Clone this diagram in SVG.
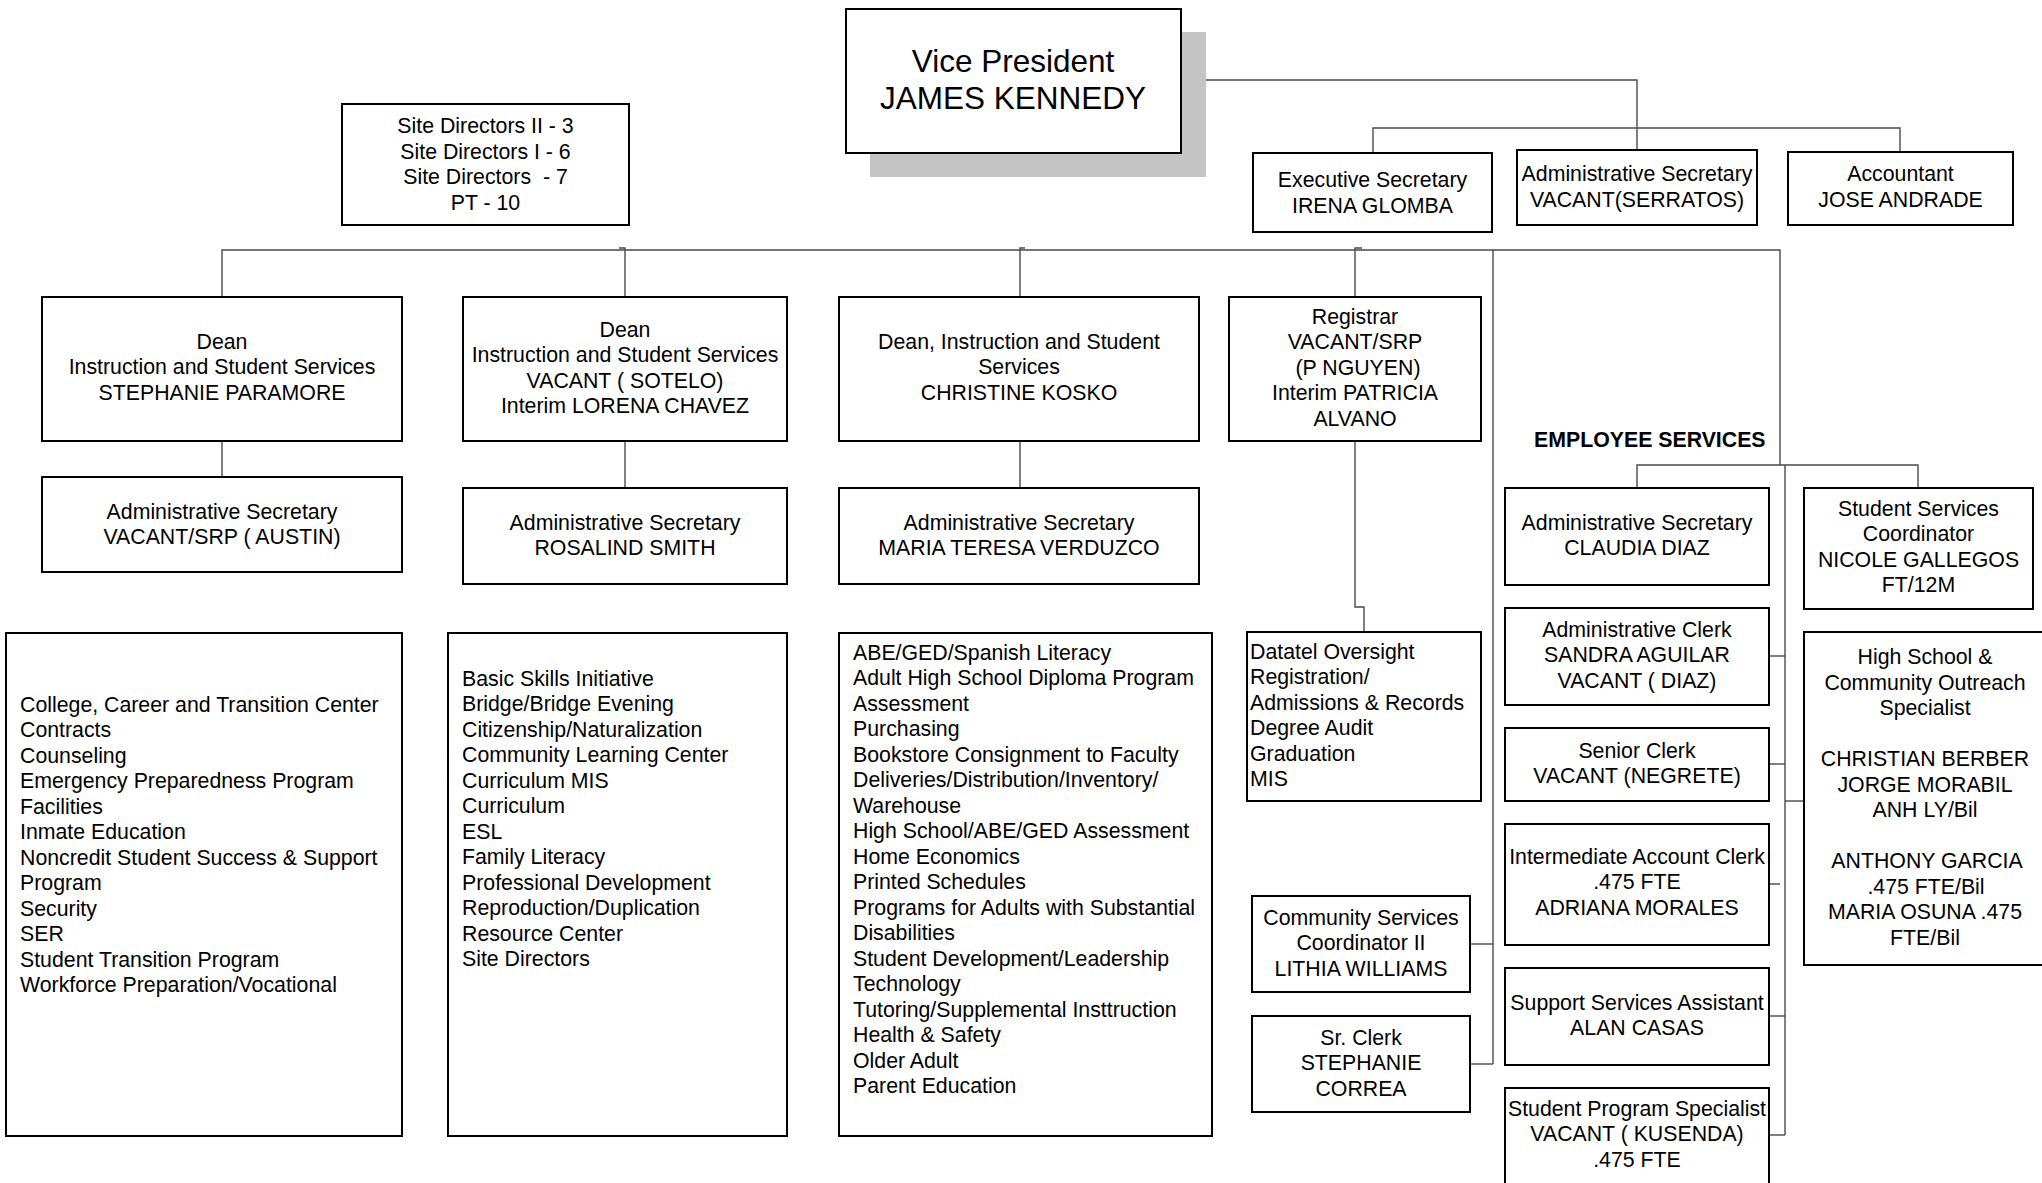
<svg xmlns="http://www.w3.org/2000/svg" width="2042" height="1183" viewBox="0 0 2042 1183">
<style>
.box{fill:#fff;stroke:#000;stroke-width:2}
.t{font-family:"Liberation Sans",Arial,sans-serif;font-size:21.3px;fill:#000}
.c{text-anchor:middle}
.b{font-weight:bold}
.vp{font-size:31.5px}
.pre{white-space:pre}
.conn{fill:none;stroke:#4a4a4a;stroke-width:1.4}
</style>
<rect width="2042" height="1183" fill="#fff"/>
<g id="connectors" class="conn">
<path d="M1181,80 H1637 V150"/>
<path d="M1373,153 V128 H1900 V152"/>
<path d="M222,297 V250 H1780 V465"/>
<path d="M619,248 H625 V297"/>
<path d="M1025,248 H1020 V297"/>
<path d="M1362,248 H1355 V297"/>
<path d="M1493,250 V1064"/>
<path d="M1355,441 V607 H1364 V632"/>
<path d="M1470,944 H1493"/>
<path d="M1470,1064 H1493"/>
<path d="M1637,488 V465 H1918 V488"/>
<path d="M1785,465 V1135"/>
<path d="M1769,656 H1785"/>
<path d="M1769,764 H1785"/>
<path d="M1769,884 H1780"/>
<path d="M1769,1016 H1785"/>
<path d="M1769,1135 H1785"/>
<path d="M1785,801 H1804"/>
<path d="M222,441 V477"/>
<path d="M625,441 V488"/>
<path d="M1020,441 V488"/>
</g>
<g id="vp">
<rect x="870" y="32" width="336" height="145" fill="#c4c4c4"/>
<rect class="box" x="846" y="9" width="335" height="144"/>
<text class="t c vp" x="1013" y="72">Vice President</text>
<text class="t c vp" x="1013" y="109">JAMES KENNEDY</text>
</g>
<g id="site-directors">
<rect class="box" x="342" y="104" width="287" height="121"/>
<text class="t c" x="485.5" y="133">Site Directors II - 3</text>
<text class="t c" x="485.5" y="158.5">Site Directors I - 6</text>
<text class="t c pre" x="485.5" y="184">Site Directors  - 7</text>
<text class="t c" x="485.5" y="209.5">PT - 10</text>
</g>
<g id="exec-sec">
<rect class="box" x="1253" y="153" width="239" height="79"/>
<text class="t c" x="1372.5" y="187">Executive Secretary</text>
<text class="t c" x="1372.5" y="212.5">IRENA GLOMBA</text>
</g>
<g id="admin-sec-top">
<rect class="box" x="1517" y="150" width="240" height="75"/>
<text class="t c" x="1637" y="181">Administrative Secretary</text>
<text class="t c" x="1637" y="206.5">VACANT(SERRATOS)</text>
</g>
<g id="accountant">
<rect class="box" x="1788" y="152" width="225" height="73"/>
<text class="t c" x="1900.5" y="181">Accountant</text>
<text class="t c" x="1900.5" y="206.5">JOSE ANDRADE</text>
</g>
<g id="dean1">
<rect class="box" x="42" y="297" width="360" height="144"/>
<text class="t c" x="222" y="348.5">Dean</text>
<text class="t c" x="222" y="374">Instruction and Student Services</text>
<text class="t c" x="222" y="399.5">STEPHANIE PARAMORE</text>
</g>
<g id="dean2">
<rect class="box" x="463" y="297" width="324" height="144"/>
<text class="t c" x="625" y="336.6">Dean</text>
<text class="t c" x="625" y="362.1">Instruction and Student Services</text>
<text class="t c" x="625" y="387.6">VACANT ( SOTELO)</text>
<text class="t c" x="625" y="413.1">Interim LORENA CHAVEZ</text>
</g>
<g id="dean3">
<rect class="box" x="839" y="297" width="360" height="144"/>
<text class="t c" x="1019" y="348.5">Dean, Instruction and Student</text>
<text class="t c" x="1019" y="374">Services</text>
<text class="t c" x="1019" y="399.5">CHRISTINE KOSKO</text>
</g>
<g id="registrar">
<rect class="box" x="1229" y="297" width="252" height="144"/>
<text class="t c" x="1355" y="323.6">Registrar</text>
<text class="t c" x="1355" y="349.1">VACANT/SRP</text>
<text class="t c" x="1358" y="374.6">(P NGUYEN)</text>
<text class="t c" x="1355" y="400.1">Interim PATRICIA</text>
<text class="t c" x="1355" y="425.6">ALVANO</text>
</g>
<g id="admin-sec-austin">
<rect class="box" x="42" y="477" width="360" height="95"/>
<text class="t c" x="222" y="518.6">Administrative Secretary</text>
<text class="t c" x="222" y="544.1">VACANT/SRP ( AUSTIN)</text>
</g>
<g id="admin-sec-smith">
<rect class="box" x="463" y="488" width="324" height="96"/>
<text class="t c" x="625" y="529.6">Administrative Secretary</text>
<text class="t c" x="625" y="555.1">ROSALIND SMITH</text>
</g>
<g id="admin-sec-verduzco">
<rect class="box" x="839" y="488" width="360" height="96"/>
<text class="t c" x="1019" y="529.6">Administrative Secretary</text>
<text class="t c" x="1019" y="555.1">MARIA TERESA VERDUZCO</text>
</g>
<g id="employee-services-label">
<text class="t b" x="1534" y="446.6">EMPLOYEE SERVICES</text>
</g>
<g id="admin-sec-diaz">
<rect class="box" x="1505" y="488" width="264" height="97"/>
<text class="t c" x="1637" y="529.6">Administrative Secretary</text>
<text class="t c" x="1637" y="555.1">CLAUDIA DIAZ</text>
</g>
<g id="ss-coordinator">
<rect class="box" x="1804" y="488" width="229" height="121"/>
<text class="t c" x="1918.5" y="515.6">Student Services</text>
<text class="t c" x="1918.5" y="541.1">Coordinator</text>
<text class="t c" x="1918.5" y="566.6">NICOLE GALLEGOS</text>
<text class="t c" x="1918.5" y="592.1">FT/12M</text>
</g>
<g id="admin-clerk">
<rect class="box" x="1505" y="608" width="264" height="97"/>
<text class="t c" x="1637" y="636.6">Administrative Clerk</text>
<text class="t c" x="1637" y="662.1">SANDRA AGUILAR</text>
<text class="t c" x="1637" y="687.6">VACANT ( DIAZ)</text>
</g>
<g id="senior-clerk">
<rect class="box" x="1505" y="728" width="264" height="73"/>
<text class="t c" x="1637" y="757.6">Senior Clerk</text>
<text class="t c" x="1637" y="783.1">VACANT (NEGRETE)</text>
</g>
<g id="account-clerk">
<rect class="box" x="1505" y="824" width="264" height="121"/>
<text class="t c" x="1637" y="863.6">Intermediate Account Clerk</text>
<text class="t c" x="1637" y="889.1">.475 FTE</text>
<text class="t c" x="1637" y="914.6">ADRIANA MORALES</text>
</g>
<g id="support-assistant">
<rect class="box" x="1505" y="968" width="264" height="97"/>
<text class="t c" x="1637" y="1009.6">Support Services Assistant</text>
<text class="t c" x="1637" y="1035.1">ALAN CASAS</text>
</g>
<g id="program-specialist">
<rect class="box" x="1505" y="1088" width="264" height="110"/>
<text class="t c" x="1637" y="1115.6">Student Program Specialist</text>
<text class="t c" x="1637" y="1141.1">VACANT ( KUSENDA)</text>
<text class="t c" x="1637" y="1166.6">.475 FTE</text>
</g>
<g id="outreach">
<rect class="box" x="1804" y="632" width="242" height="333"/>
<text class="t c" x="1925" y="664.2">High School &amp;</text>
<text class="t c" x="1925" y="689.7">Community Outreach</text>
<text class="t c" x="1925" y="715.2">Specialist</text>
<text class="t c" x="1925" y="766.2">CHRISTIAN BERBER</text>
<text class="t c" x="1925" y="791.7">JORGE MORABIL</text>
<text class="t c" x="1925" y="817.2">ANH LY/Bil</text>
<text class="t c" x="1927" y="868.2">ANTHONY GARCIA</text>
<text class="t c" x="1926" y="893.7">.475 FTE/Bil</text>
<text class="t c" x="1925" y="919.2">MARIA OSUNA .475</text>
<text class="t c" x="1925" y="944.7">FTE/Bil</text>
</g>
<g id="datatel">
<rect class="box" x="1247" y="632" width="234" height="169"/>
<text class="t" x="1250" y="658.6">Datatel Oversight</text>
<text class="t" x="1250" y="684.1">Registration/</text>
<text class="t" x="1250" y="709.6">Admissions &amp; Records</text>
<text class="t" x="1250" y="735.1">Degree Audit</text>
<text class="t" x="1250" y="760.6">Graduation</text>
<text class="t" x="1250" y="786.1">MIS</text>
</g>
<g id="community-coordinator">
<rect class="box" x="1252" y="896" width="218" height="96"/>
<text class="t c" x="1361" y="924.6">Community Services</text>
<text class="t c" x="1361" y="950.1">Coordinator II</text>
<text class="t c" x="1361" y="975.6">LITHIA WILLIAMS</text>
</g>
<g id="sr-clerk">
<rect class="box" x="1252" y="1016" width="218" height="96"/>
<text class="t c" x="1361" y="1044.6">Sr. Clerk</text>
<text class="t c" x="1361" y="1070.1">STEPHANIE</text>
<text class="t c" x="1361" y="1095.6">CORREA</text>
</g>
<g id="list1">
<rect class="box" x="6" y="633" width="396" height="503"/>
<text class="t" x="20" y="711.6">College, Career and Transition Center<tspan x="20" dy="25.5">Contracts</tspan><tspan x="20" dy="25.5">Counseling</tspan><tspan x="20" dy="25.5">Emergency Preparedness Program</tspan><tspan x="20" dy="25.5">Facilities</tspan><tspan x="20" dy="25.5">Inmate Education</tspan><tspan x="20" dy="25.5">Noncredit Student Success &amp; Support</tspan><tspan x="20" dy="25.5">Program</tspan><tspan x="20" dy="25.5">Security</tspan><tspan x="20" dy="25.5">SER</tspan><tspan x="20" dy="25.5">Student Transition Program</tspan><tspan x="20" dy="25.5">Workforce Preparation/Vocational</tspan></text>
</g>
<g id="list2">
<rect class="box" x="448" y="633" width="339" height="503"/>
<text class="t" x="462" y="685.6">Basic Skills Initiative<tspan x="462" dy="25.5">Bridge/Bridge Evening</tspan><tspan x="462" dy="25.5">Citizenship/Naturalization</tspan><tspan x="462" dy="25.5">Community Learning Center</tspan><tspan x="462" dy="25.5">Curriculum MIS</tspan><tspan x="462" dy="25.5">Curriculum</tspan><tspan x="462" dy="25.5">ESL</tspan><tspan x="462" dy="25.5">Family Literacy</tspan><tspan x="462" dy="25.5">Professional Development</tspan><tspan x="462" dy="25.5">Reproduction/Duplication</tspan><tspan x="462" dy="25.5">Resource Center</tspan><tspan x="462" dy="25.5">Site Directors</tspan></text>
</g>
<g id="list3">
<rect class="box" x="839" y="633" width="373" height="503"/>
<text class="t" x="853" y="659.6">ABE/GED/Spanish Literacy<tspan x="853" dy="25.5">Adult High School Diploma Program</tspan><tspan x="853" dy="25.5">Assessment</tspan><tspan x="853" dy="25.5">Purchasing</tspan><tspan x="853" dy="25.5">Bookstore Consignment to Faculty</tspan><tspan x="853" dy="25.5">Deliveries/Distribution/Inventory/</tspan><tspan x="853" dy="25.5">Warehouse</tspan><tspan x="853" dy="25.5">High School/ABE/GED Assessment</tspan><tspan x="853" dy="25.5">Home Economics</tspan><tspan x="853" dy="25.5">Printed Schedules</tspan><tspan x="853" dy="25.5">Programs for Adults with Substantial</tspan><tspan x="853" dy="25.5">Disabilities</tspan><tspan x="853" dy="25.5">Student Development/Leadership</tspan><tspan x="853" dy="25.5">Technology</tspan><tspan x="853" dy="25.5">Tutoring/Supplemental Insttruction</tspan><tspan x="853" dy="25.5">Health &amp; Safety</tspan><tspan x="853" dy="25.5">Older Adult</tspan><tspan x="853" dy="25.5">Parent Education</tspan></text>
</g>
</svg>
